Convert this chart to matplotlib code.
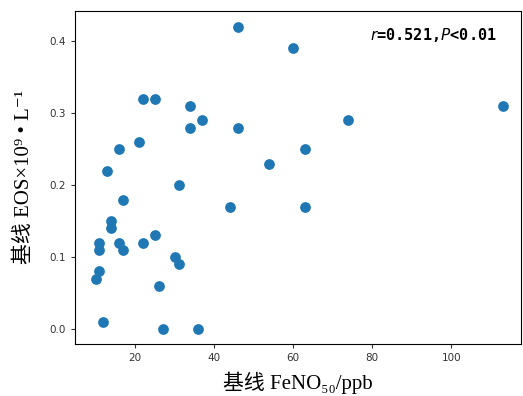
import matplotlib
matplotlib.use("Agg")
import matplotlib.pyplot as plt

# baseline FeNO50 (ppb) vs baseline EOS (x10^9/L)
feno = [10, 11, 11, 11, 12, 13, 14, 14, 16, 16, 17, 17, 21, 22, 22, 25, 25, 26, 27,
        30, 31, 31, 34, 34, 36, 37, 44, 46, 46, 54, 60, 63, 63, 74, 113]
eos = [0.07, 0.08, 0.11, 0.12, 0.01, 0.22, 0.15, 0.14, 0.25, 0.12, 0.11, 0.18, 0.26, 0.32, 0.12, 0.32, 0.13, 0.06, 0.0,
       0.10, 0.09, 0.20, 0.31, 0.28, 0.0, 0.29, 0.17, 0.42, 0.28, 0.23, 0.39, 0.25, 0.17, 0.29, 0.31]

xticks = [20, 40, 60, 80, 100]
yticks = [0.0, 0.1, 0.2, 0.3, 0.4]
label_font = ['Liberation Serif', 'Noto Sans CJK SC', 'DejaVu Sans']

fig = plt.figure(figsize=(5.23, 3.96), dpi=100)
ax = fig.add_axes([0.1434, 0.1313, 0.853, 0.841])
ax.scatter(feno, eos, s=45, color='#1f77b4', zorder=3)

ax.set_xlim(4.8, 117.7)
ax.set_ylim(-0.0208, 0.442)
ax.set_xticks(xticks)
ax.set_yticks(yticks)
ax.set_yticklabels(['%.1f' % v for v in yticks])
ax.tick_params(labelsize=7.5, colors='#333333', length=3)

ax.set_xlabel('基线 FeNO₅₀/ppb', fontsize=15, family=label_font, labelpad=6.5)
ax.set_ylabel('基线 EOS×10⁹ • L⁻¹', fontsize=15, family=label_font, labelpad=11)

ax.text(79.5, 0.409, r'$\it{r}$=0.521,$\it{P}$<0.01', fontsize=11, fontweight='bold',
        family='DejaVu Sans Mono', va='center', ha='left')

fig.savefig('out.png', dpi=100)
